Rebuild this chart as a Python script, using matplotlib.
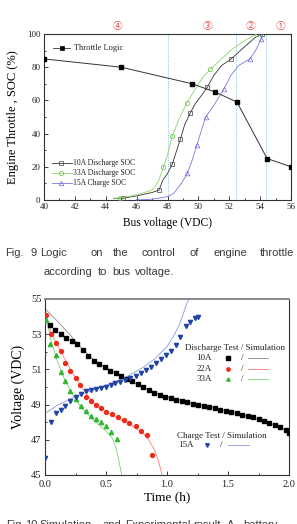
import matplotlib
matplotlib.use("Agg")
import matplotlib.pyplot as plt
from matplotlib.lines import Line2D
from matplotlib.ticker import MultipleLocator

plt.rcParams['font.family'] = ['Liberation Serif', 'DejaVu Serif']

# ---------------- Fig. 9 data ----------------
throttle_v = [40, 45, 49.6, 51.1, 52.5, 54.45, 56]
throttle_p = [85, 80, 70, 65, 59, 25, 20]

soc10_v = [44.5, 45.1, 46.0, 47.0, 47.45, 47.7, 48.0, 48.31, 48.6, 48.83, 49.1,
           49.46, 49.8, 50.2, 50.58, 51.0, 51.5, 52.09, 52.6, 53.2, 53.7, 54.1]
soc10_p = [1, 1, 2.5, 4.5, 6, 12, 16, 21.5, 30, 36.5, 45,
           52.2, 58, 63, 68, 75, 81, 84.7, 89, 94, 98, 100]
soc10_mk = [1, 4, 7, 9, 11, 14, 17, 21]

soc33_v = [44.5, 44.9, 46.0, 47.0, 47.4, 47.73, 48.0, 48.31, 48.8, 49.26, 49.8,
           50.3, 50.77, 51.5, 52.2, 53.0, 53.77]
soc33_p = [1, 1.2, 3, 6, 11, 19.7, 27, 38.7, 50, 58.6, 67,
           74, 78.7, 85, 91, 96, 100]
soc33_mk = [1, 5, 7, 9, 12, 16]

soc15_v = [46.0, 47.0, 48.0, 48.4, 48.9, 49.28, 49.6, 49.9, 50.2, 50.47, 51.0,
           51.66, 52.1, 52.6, 53.34, 53.7, 54.07, 54.2]
soc15_p = [0, 0.5, 2, 4, 10, 16, 24, 33, 42, 50, 57,
           67, 75, 81, 85, 90, 97, 100]
soc15_mk = [0, 5, 7, 9, 11, 14, 16]

zone_lines = [48.0, 52.45, 54.4]
zone_labels = ['④', '③', '②', '①']
zone_label_x = [44.75, 50.6, 53.4, 55.3]

x1_ticks = [40, 42, 44, 46, 48, 50, 52, 54, 56]
y1_ticks = [0, 20, 40, 60, 80, 100]

# ---------------- Fig. 10 data ----------------
t10 = [0.04, 0.085, 0.13, 0.175, 0.22, 0.265, 0.31, 0.355, 0.40, 0.445, 0.49,
       0.535, 0.58, 0.625, 0.67, 0.715, 0.76, 0.805, 0.85, 0.895, 0.94, 0.985,
       1.03, 1.075, 1.12, 1.165, 1.21, 1.255, 1.30, 1.345, 1.39, 1.435, 1.48,
       1.525, 1.57, 1.615, 1.66, 1.705, 1.75, 1.795, 1.84, 1.885, 1.93, 1.975, 2.0]
v10 = [53.5, 53.22, 53.02, 52.8, 52.62, 52.45, 52.1, 51.75, 51.5, 51.3, 51.12,
       50.93, 50.77, 50.63, 50.47, 50.32, 50.18, 49.98, 49.82, 49.68, 49.55, 49.45,
       49.35, 49.27, 49.2, 49.12, 49.05, 48.98, 48.92, 48.85, 48.78, 48.72, 48.65,
       48.58, 48.5, 48.43, 48.35, 48.27, 48.18, 48.08, 47.97, 47.85, 47.72, 47.55, 47.4]
t10_sim = [0, 0.1, 0.2, 0.3, 0.4, 0.5, 0.6, 0.7, 0.8, 0.9, 1.0, 1.2, 1.4, 1.6, 1.8, 1.9, 2.0]
v10_sim = [54.45, 53.75, 53.0, 52.2, 51.55, 51.1, 50.72, 50.35, 50.0, 49.7, 49.45,
           49.1, 48.78, 48.45, 48.05, 47.8, 47.45]

t22 = [0.008, 0.046, 0.087, 0.128, 0.168, 0.209, 0.25, 0.29, 0.34, 0.38, 0.42,
       0.46, 0.50, 0.55, 0.60, 0.645, 0.69, 0.745, 0.79, 0.835, 0.873]
v22 = [54.1, 53.0, 52.48, 52.06, 51.35, 50.9, 50.53, 50.1, 49.45, 49.2, 48.98,
       48.8, 48.6, 48.45, 48.28, 48.13, 47.97, 47.78, 47.52, 47.27, 46.14]
t22_sim = [0, 0.05, 0.1, 0.15, 0.2, 0.25, 0.3, 0.35, 0.4, 0.5, 0.6, 0.7, 0.8, 0.85, 0.9, 0.93, 0.96]
v22_sim = [54.3, 53.1, 52.4, 51.75, 51.1, 50.55, 50.0, 49.5, 49.1, 48.6, 48.2,
           47.85, 47.4, 47.0, 46.4, 45.8, 45.0]

t33 = [0.008, 0.04, 0.087, 0.128, 0.168, 0.209, 0.25, 0.293, 0.333, 0.374, 0.415,
       0.455, 0.496, 0.54, 0.588]
v33 = [53.8, 52.43, 51.8, 50.87, 50.34, 49.77, 49.32, 48.92, 48.64, 48.35, 48.16,
       48.0, 47.78, 47.42, 47.05]
t33_sim = [0, 0.05, 0.1, 0.15, 0.2, 0.25, 0.3, 0.4, 0.5, 0.55, 0.58, 0.6, 0.62, 0.63]
v33_sim = [54.3, 52.6, 51.5, 50.6, 49.9, 49.3, 48.8, 48.1, 47.5, 47.1, 46.6, 46.0, 45.3, 45.0]

t15 = [0.0, 0.046, 0.087, 0.128, 0.168, 0.209, 0.252, 0.293, 0.333, 0.374, 0.415,
       0.455, 0.496, 0.537, 0.577, 0.618, 0.659, 0.699, 0.745, 0.785, 0.827, 0.87,
       0.908, 0.95, 0.989, 1.03, 1.07, 1.11, 1.152, 1.19, 1.23, 1.255]
v15 = [45.95, 47.99, 48.5, 48.7, 48.94, 49.22, 49.41, 49.6, 49.77, 49.83, 49.88,
       49.94, 50.0, 50.11, 50.2, 50.3, 50.4, 50.49, 50.64, 50.78, 50.97, 51.16,
       51.35, 51.58, 51.82, 52.06, 52.38, 52.86, 53.47, 53.7, 53.9, 54.0]
t15_sim = [0, 0.1, 0.2, 0.3, 0.4, 0.5, 0.6, 0.7, 0.8, 0.9, 1.0, 1.05, 1.1, 1.13, 1.16, 1.18]
v15_sim = [48.5, 48.95, 49.3, 49.6, 49.85, 50.1, 50.35, 50.7, 51.1, 51.6, 52.3,
           52.85, 53.5, 54.1, 54.7, 55.0]

x2_ticks = [0.0, 0.5, 1.0, 1.5, 2.0]
y2_ticks = [45, 47, 49, 51, 53, 55]

# captions
cap1_words = ['Fig.', '9', 'Logic', 'on', 'the', 'control', 'of', 'engine', 'throttle']
cap1_x = [5, 30.5, 40, 90.5, 113, 141.5, 190, 213, 260]
cap1b_words = ['according', 'to', 'bus', 'voltage.']
cap1b_x = [43, 98, 112.5, 135]
cap2_words = ['Fig.', '10', 'Simulation', 'and', 'Experimental', 'result.', 'A', 'battery']
cap2_x = [6.5, 25.5, 39, 103, 125, 193, 227, 243]

# ---------------- figure ----------------
W, H = 297, 524
fig = plt.figure(figsize=(W / 100, H / 100), dpi=100)

def frac_rect(l, t, r, b):
    return [l / W, 1 - b / H, (r - l) / W, (b - t) / H]

# ---- top chart ----
ax1 = fig.add_axes(frac_rect(44, 34, 291, 200))
for v in zone_lines:
    ax1.axvline(v, color='#5ab4d8', lw=0.6, ls=(0, (1, 1.5)), zorder=1)
ax1.plot(throttle_v, throttle_p, color='#333333', lw=0.7, marker='s', ms=3.2,
         mfc='black', mec='black', zorder=5)
ax1.plot(soc10_v, soc10_p, color='#333333', lw=0.6, marker='s', ms=3.2,
         mfc='none', mec='#444444', mew=0.5, markevery=soc10_mk, zorder=4)
ax1.plot(soc33_v, soc33_p, color='#8ed46a', lw=0.6, marker='o', ms=3.2,
         mfc='none', mec='#6cc048', mew=0.5, markevery=soc33_mk, zorder=4)
ax1.plot(soc15_v, soc15_p, color='#7a7ae0', lw=0.6, marker='^', ms=3.4,
         mfc='none', mec='#6a6ad8', mew=0.5, markevery=soc15_mk, zorder=4)
ax1.set_xlim(40, 56)
ax1.set_ylim(0, 100)
ax1.set_xticks(x1_ticks)
ax1.set_yticks(y1_ticks)
ax1.xaxis.set_minor_locator(MultipleLocator(1))
ax1.yaxis.set_minor_locator(MultipleLocator(10))
ax1.tick_params(which='both', direction='in', labelsize=6.5, pad=2.5,
                colors='#222222', width=0.6)
ax1.tick_params(which='major', length=3)
ax1.tick_params(which='minor', length=1.5)
for s in ax1.spines.values():
    s.set_linewidth(0.8)
    s.set_color('#333333')
ax1.set_xlabel('Bus voltage (VDC)', fontsize=8.3, labelpad=4)
ax1.set_ylabel('Engine Throttle , SOC (%)', fontsize=9, labelpad=6)

for lbl, xv in zip(zone_labels, zone_label_x):
    ax1.text(xv, 1.05, lbl, transform=ax1.get_xaxis_transform(), color='#e84a4a',
             fontsize=7, ha='center', va='center',
             family=['Noto Sans CJK SC', 'DejaVu Sans'])

# legends top (manual)
def leg_row(ax, x0, x1, xm, xt, y, color, marker, mfc, mec, label, fs):
    ax.add_line(Line2D([x0, x1], [y, y], transform=ax.transAxes, color=color, lw=0.6))
    ax.add_line(Line2D([xm], [y], transform=ax.transAxes, marker=marker, ms=3.2,
                       mfc=mfc, mec=mec, mew=0.5, ls='none'))
    ax.text(xt, y, label, transform=ax.transAxes, fontsize=fs, va='center',
            ha='left', color='#222222')

leg_row(ax1, 0.036, 0.105, 0.073, 0.12, 0.915, '#333333', 's', 'black', 'black',
        'Throttle Logic', 6)
leg_row(ax1, 0.031, 0.112, 0.068, 0.118, 0.225, '#333333', 's', 'none', '#444444',
        '10A Discharge SOC', 5.5)
leg_row(ax1, 0.031, 0.112, 0.068, 0.118, 0.165, '#8ed46a', 'o', 'none', '#6cc048',
        '33A Discharge SOC', 5.5)
leg_row(ax1, 0.031, 0.112, 0.068, 0.118, 0.104, '#7a7ae0', '^', 'none', '#6a6ad8',
        '15A Charge SOC', 5.5)

# ---- captions ----
cap_color = '#3a3a3a'
cap_font = ['Liberation Sans', 'DejaVu Sans']
cap_fs = 8
for w, xp in zip(cap1_words, cap1_x):
    fig.text(xp / W, 1 - 253 / H, w, fontsize=cap_fs, color=cap_color,
             family=cap_font, va='center', ha='left')
for w, xp in zip(cap1b_words, cap1b_x):
    fig.text(xp / W, 1 - 272 / H, w, fontsize=cap_fs, color=cap_color,
             family=cap_font, va='center', ha='left')
for w, xp in zip(cap2_words, cap2_x):
    fig.text(xp / W, 1 - 525 / H, w, fontsize=cap_fs, color=cap_color,
             family=cap_font, va='center', ha='left')

# ---- bottom chart ----
ax2 = fig.add_axes(frac_rect(45, 299, 289, 475))
ax2.plot(t10_sim, v10_sim, color='#8a8a8a', lw=0.6, zorder=2)
ax2.plot(t22_sim, v22_sim, color='#ff7a7a', lw=0.6, zorder=2)
ax2.plot(t33_sim, v33_sim, color='#7ad07a', lw=0.6, zorder=2)
ax2.plot(t15_sim, v15_sim, color='#8a9ae6', lw=0.6, zorder=2)
ax2.plot(t10, v10, ls='none', marker='s', ms=2.8, color='black', zorder=4)
ax2.plot(t22, v22, ls='none', marker='o', ms=2.8, color='#f02a1a', zorder=4)
ax2.plot(t33, v33, ls='none', marker='^', ms=3.0, color='#2fb82f', zorder=4)
ax2.plot(t15, v15, ls='none', marker='v', ms=3.0, color='#2244a8', zorder=4)
ax2.set_xlim(0, 2.0)
ax2.set_ylim(45, 55)
ax2.set_xticks(x2_ticks)
ax2.set_xticklabels(['%.1f' % v for v in x2_ticks])
ax2.set_yticks(y2_ticks)
ax2.xaxis.set_minor_locator(MultipleLocator(0.25))
ax2.yaxis.set_minor_locator(MultipleLocator(1))
ax2.tick_params(which='both', direction='in', labelsize=7.5, colors='#222222', width=0.6)
ax2.tick_params(axis='x', pad=3.5)
ax2.tick_params(axis='y', pad=2.5)
ax2.tick_params(which='major', length=3)
ax2.tick_params(which='minor', length=1.5)
for s in ax2.spines.values():
    s.set_linewidth(0.8)
    s.set_color('#333333')
ax2.spines['top'].set_color('#8a8a8a')
ax2.spines['top'].set_linewidth(1.4)
ax2.set_xlabel('Time (h)', fontsize=9.5, labelpad=2)
ax2.set_ylabel('Voltage (VDC)', fontsize=10, labelpad=4)

# legend bottom (manual)
lfs = 6.5
ax2.text(0.779, 0.723, 'Discharge Test / Simulation', transform=ax2.transAxes,
         fontsize=lfs, ha='center', va='center', color='#222222')
rows = [('10A', 0.663, 's', 'black', '#8a8a8a'),
        ('22A', 0.602, 'o', '#f02a1a', '#ff7a7a'),
        ('33A', 0.545, '^', '#2fb82f', '#7ad07a')]
for lab, y, mk, mc, lc in rows:
    ax2.text(0.652, y, lab, transform=ax2.transAxes, fontsize=lfs,
             ha='center', va='center', color='#222222')
    ax2.add_line(Line2D([0.751], [y], transform=ax2.transAxes, marker=mk, ms=2.4,
                        color=mc, ls='none'))
    ax2.text(0.809, y, '/', transform=ax2.transAxes, fontsize=lfs,
             ha='center', va='center', color='#222222')
    ax2.add_line(Line2D([0.833, 0.915], [y, y], transform=ax2.transAxes,
                        color=lc, lw=0.6))
ax2.text(0.724, 0.223, 'Charge Test / Simulation', transform=ax2.transAxes,
         fontsize=lfs, ha='center', va='center', color='#222222')
ax2.text(0.577, 0.170, '15A', transform=ax2.transAxes, fontsize=lfs,
         ha='center', va='center', color='#222222')
ax2.add_line(Line2D([0.665], [0.170], transform=ax2.transAxes, marker='v', ms=2.6,
                    color='#2244a8', ls='none'))
ax2.text(0.724, 0.170, '/', transform=ax2.transAxes, fontsize=lfs,
         ha='center', va='center', color='#222222')
ax2.add_line(Line2D([0.751, 0.837], [0.170, 0.170], transform=ax2.transAxes,
                    color='#8a9ae6', lw=0.6))

fig.savefig('out.png', dpi=100, facecolor='white')
